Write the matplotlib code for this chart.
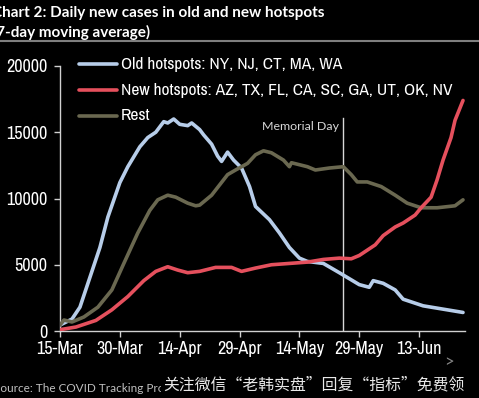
import matplotlib
matplotlib.use("Agg")
import matplotlib.pyplot as plt
from matplotlib import font_manager

# ---------------- data (day offset from 15-Mar, daily cases) ----------------
old_days = [0, 3, 5, 7, 10, 12, 15, 17, 20, 22, 24, 26, 27, 28.5, 30, 32, 33, 35, 36, 38,
            39.5, 40.5, 42, 43.5, 45.5, 47.5, 49, 52.5, 55, 57.5, 60, 62, 66, 70, 75,
            77.5, 78.5, 81, 84, 86, 91, 95, 101]
old_vals = [450, 900, 1800, 3600, 6300, 8600, 11200, 12400, 13900, 14600, 15000, 15800,
            15700, 16000, 15600, 15500, 15700, 15200, 14800, 14100, 13200, 12800, 13500,
            12900, 12300, 10900, 9400, 8400, 7400, 6300, 5500, 5250, 5100, 4400, 3500,
            3300, 3800, 3600, 3100, 2400, 1900, 1700, 1400]

new_days = [0, 4, 9, 13, 17, 21, 24, 27, 29.5, 32, 35, 39, 43, 45.5, 49, 53, 57.5, 62,
            66, 70, 73, 75, 77, 79, 81, 84, 86, 89, 90.5, 93, 94.5, 96, 98, 99, 101]
new_vals = [100, 300, 800, 1600, 2600, 3800, 4500, 4850, 4600, 4400, 4500, 4800, 4800,
            4500, 4750, 5000, 5100, 5200, 5400, 5500, 5450, 5700, 6100, 6500, 7200, 7850,
            8150, 8750, 9300, 10100, 11400, 12900, 14600, 15900, 17400]

rest_days = [0, 1, 3, 6, 9.5, 13, 16, 19.5, 22.5, 24.5, 27, 29, 32, 34, 35, 38, 42, 44,
             47, 49, 51, 53, 56, 57.5, 58, 62, 64, 67.5, 71, 73, 74.5, 77, 80.5, 84, 87,
             90.5, 94.5, 99, 101]
rest_vals = [450, 830, 680, 1060, 1800, 3100, 5100, 7400, 9100, 9900, 10250, 10100, 9650,
             9450, 9500, 10250, 11800, 12150, 12650, 13300, 13600, 13450, 12900, 12400,
             12700, 12400, 12150, 12300, 12400, 11800, 11250, 11250, 10900, 10250, 9650,
             9300, 9300, 9450, 9900]

series_labels = ["Old hotspots: NY, NJ, CT, MA, WA",
                 "New hotspots: AZ, TX, FL, CA, SC, GA, UT, OK, NV",
                 "Rest"]
tick_days = [0, 15, 30, 45, 60, 75, 90]
tick_labels = ["15-Mar", "30-Mar", "14-Apr", "29-Apr", "14-May", "29-May", "13-Jun"]
y_ticks = [0, 5000, 10000, 15000, 20000]
memorial_day = 71

# ---------------- fonts ----------------
ttf = font_manager.fontManager.ttflist
names = {f.name for f in ttf}
soft = "Lato" if "Lato" in names else "DejaVu Sans"


def regular(f):
    return f.style == "normal" and f.weight in (400, "normal", "regular", "book")


narrow_font = None
for f in ttf:
    if ("Narrow" in f.name or "Condensed" in f.name) and regular(f):
        narrow_font = font_manager.FontProperties(fname=f.fname)
        break
if narrow_font is None:
    for f in ttf:
        if str(f.stretch) in ("condensed", "semi-condensed") and regular(f):
            narrow_font = font_manager.FontProperties(fname=f.fname)
            break
if narrow_font is None:
    narrow_font = font_manager.FontProperties(family="Roboto")
    tick_fs, leg_fs = 11.5, 11.5
else:
    tick_fs, leg_fs = 13, 12.5


def nfp(size):
    p = narrow_font.copy()
    p.set_size(size)
    return p


W, H = 479, 398
fig = plt.figure(figsize=(W / 100, H / 100), dpi=100, facecolor="black")
ax = fig.add_axes([60 / W, 1 - 331 / H, 405 / W, 265 / H], facecolor="black")

c_old = "#b7cde9"
c_new = "#e5505d"
c_rest = "#6a6850"

ax.plot(old_days, old_vals, color=c_old, lw=2.6, solid_capstyle="round", zorder=3)
ax.plot(new_days, new_vals, color=c_new, lw=2.6, solid_capstyle="round", zorder=4)
ax.plot(rest_days, rest_vals, color=c_rest, lw=2.6, solid_capstyle="round", zorder=3)

ax.axvline(memorial_day, ymin=0, ymax=(331 - 118) / 265, color="#d8d8d8", lw=1.0, zorder=2)
ax.text(memorial_day - 1, 15400, "Memorial Day", color="#d8d8d8", fontsize=8.9,
        family=soft, ha="right", va="center")

ax.set_xlim(0, 101.5)
ax.set_ylim(0, 20000)
ax.set_xticks(tick_days)
ax.set_xticklabels(tick_labels)
ax.set_yticks(y_ticks)
ax.set_yticklabels([str(v) for v in y_ticks])
for s in ["top", "right"]:
    ax.spines[s].set_visible(False)
for s in ["left", "bottom"]:
    ax.spines[s].set_color("#d0d0d0")
    ax.spines[s].set_linewidth(1.0)
ax.tick_params(colors="#d0d0d0", direction="out", length=4, width=1.0)
ax.tick_params(axis="y", pad=5)
ax.tick_params(axis="x", pad=3)
for lab in ax.get_xticklabels() + ax.get_yticklabels():
    lab.set_color("white")
    lab.set_fontproperties(nfp(tick_fs))

# legend drawn manually in figure pixels
for i, (lab, col) in enumerate(zip(series_labels, [c_old, c_new, c_rest])):
    yy = 1 - (64 + 26 * i) / H
    fig.add_artist(plt.Line2D([79 / W, 117 / W], [yy, yy], color=col, lw=2.6,
                              solid_capstyle="round"))
    fig.text(121 / W, yy, lab, color="white", va="center", fontproperties=nfp(leg_fs))

# titles
fig.text(-8 / W, 1 - 13 / H, "Chart 2: Daily new cases in old and new hotspots",
         color="white", fontsize=11, family=soft, weight="bold", va="center")
fig.text(-8 / W, 1 - 32 / H, "(7-day moving average)",
         color="white", fontsize=11, family=soft, weight="bold", va="center")
fig.add_artist(plt.Line2D([0, 1], [1 - 41 / H, 1 - 41 / H], color="#7f7f7f", lw=1.5))

# source + watermark
fig.text(-6 / W, 1 - 388 / H, "Source: The COVID Tracking Project", color="#bfbfbf",
         fontsize=8.5, family=soft, va="center")
fig.text(163 / W, 1 - 385 / H, "关注微信“老韩实盘”回复“指标”免费领", color="#e8e8e8",
         fontsize=11.4, family=["Noto Sans CJK SC", "DejaVu Sans"], va="center",
         bbox=dict(facecolor="black", edgecolor="none", pad=1.5))
fig.text(449 / W, 1 - 362 / H, ">", color="#888888", fontsize=12, family=soft,
         va="center", ha="center")

fig.savefig("out.png", dpi=100, facecolor="black")
